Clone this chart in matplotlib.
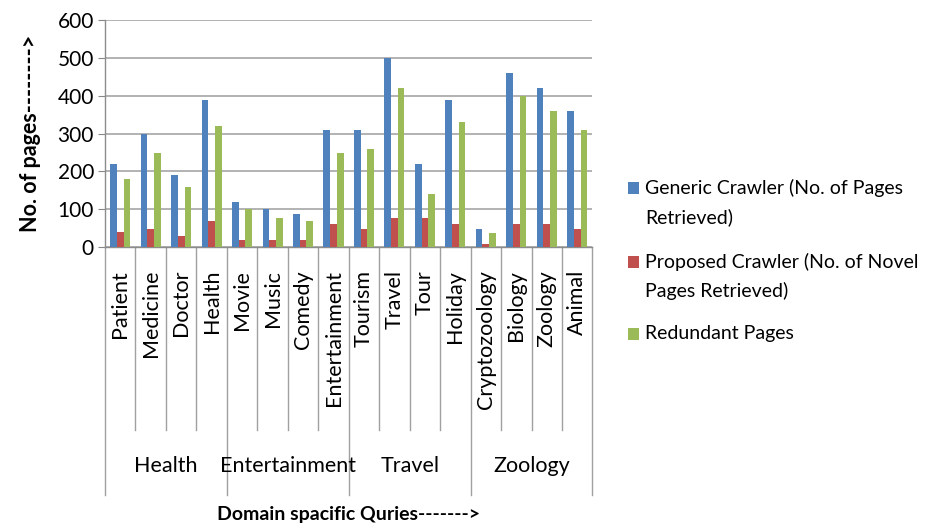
import numpy as np
import matplotlib.pyplot as plt
from matplotlib.patches import Rectangle

plt.rcParams['font.family'] = ['Lato', 'DejaVu Sans']

# queries grouped by domain
queries = ['Patient', 'Medicine', 'Doctor', 'Health',
           'Movie', 'Music', 'Comedy', 'Entertainment',
           'Tourism', 'Travel', 'Tour', 'Holiday',
           'Cryptozoology', 'Biology', 'Zoology', 'Animal']
domains = ['Health', 'Entertainment', 'Travel', 'Zoology']
per_domain = 4

generic = [220, 300, 190, 390, 118, 100, 88, 310,
           310, 500, 220, 390, 48, 460, 420, 360]
proposed = [40, 48, 30, 70, 20, 20, 20, 60,
            48, 78, 78, 60, 8, 60, 60, 48]
redundant = [180, 250, 158, 320, 100, 78, 70, 250,
             260, 420, 140, 330, 38, 400, 360, 310]

series_names = ['Generic Crawler (No. of Pages\nRetrieved)',
                'Proposed Crawler (No. of Novel\nPages Retrieved)',
                'Redundant Pages']
colors = ['#4F81BD', '#C0504D', '#9BBB59']

fig = plt.figure(figsize=(9.41, 5.27), dpi=100)
ax = fig.add_axes([0.1116, 0.531, 0.518, 0.431])

x = np.arange(len(queries))
w = 0.22
for k, vals in enumerate([generic, proposed, redundant]):
    ax.bar(x + (k - 1) * w, vals, width=w, color=colors[k], zorder=3)

ax.set_xlim(-0.5, len(queries) - 0.5)
ax.set_ylim(0, 600)
ax.set_yticks(range(0, 601, 100))
ax.tick_params(axis='y', labelsize=15, length=5, color='#888888', pad=3)
ax.set_xticks([])
ax.grid(axis='y', color='#a6a6a6', linewidth=1.2, zorder=0)
for s in ['top', 'right']:
    ax.spines[s].set_visible(False)
for s in ['left', 'bottom']:
    ax.spines[s].set_color('#8c8c8c')
    ax.spines[s].set_linewidth(1.0)

ax.set_ylabel('No. of pages-------->', fontsize=15.5, fontweight='bold', labelpad=12)

# two-level category axis drawn below the plot area
trans = ax.get_xaxis_transform()
line_kw = dict(color='#a0a0a0', linewidth=1.0, clip_on=False, transform=trans)
inner_depth = -0.806
outer_depth = -1.09
for i in range(len(queries) + 1):
    edge = i - 0.5
    depth = outer_depth if i % per_domain == 0 else inner_depth
    ax.plot([edge, edge], [0, depth], **line_kw)
for i, q in enumerate(queries):
    ax.text(i, -0.1, q, rotation=90, ha='center', va='top',
            fontsize=15.5, transform=trans)
for j, d in enumerate(domains):
    mid = j * per_domain + (per_domain - 1) / 2
    ax.text(mid, -0.965, d, ha='center', va='center', fontsize=15.5, transform=trans)

fig.text(0.37, 0.023, 'Domain spacific Quries------->', ha='center', va='center',
         fontsize=14, fontweight='bold')

# legend: square key beside the first line of each entry
W, H = fig.get_size_inches() * fig.dpi
key_y = [188, 262, 334]
for c, name, yy in zip(colors, series_names, key_y):
    fig.patches.append(Rectangle((628 / W, 1 - (yy + 6) / H), 11 / W, 12 / H,
                                 facecolor=c, transform=fig.transFigure))
    fig.text(645 / W, 1 - (yy - 9) / H, name, ha='left', va='top',
             fontsize=14, linespacing=1.75)

fig.savefig('out.png', dpi=100)
